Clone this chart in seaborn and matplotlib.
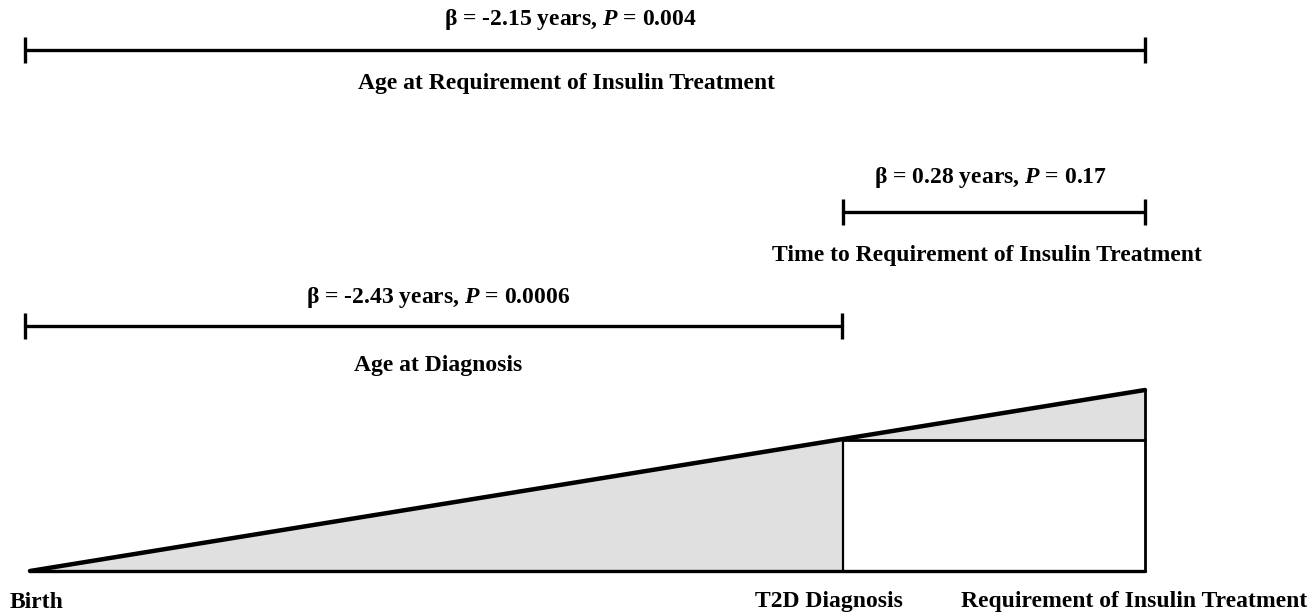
import numpy as np
import pandas as pd
import seaborn as sns
import matplotlib.pyplot as plt
from matplotlib.patches import Polygon

sns.set_theme(style="white")
plt.rcParams['font.family'] = ['Liberation Serif', 'DejaVu Serif']
plt.rcParams['mathtext.fontset'] = 'custom'
plt.rcParams['mathtext.rm'] = 'Liberation Serif'
plt.rcParams['mathtext.bf'] = 'Liberation Serif:bold'
plt.rcParams['mathtext.bfit'] = 'Liberation Serif:italic:bold'
plt.rcParams['text.color'] = 'black'

# timeline events (horizontal position along the diagram)
events = ['Birth', 'T2D Diagnosis', 'Requirement of Insulin Treatment']
event_x = [30, 843, 1145]

# outcome brackets
outcomes = ['Age at Requirement of Insulin Treatment',
            'Time to Requirement of Insulin Treatment',
            'Age at Diagnosis']
beta = ['-2.15', '0.28', '-2.43']
pvals = ['0.004', '0.17', '0.0006']
start_x = [25, 843, 25]
end_x = [1145, 1145, 842]
row_y = [50, 212, 326]

# triangle heights (pixels above the base)
base_y = 571
height_diag = 131
height_insulin = 181

# text placement per row
stat_dx = [-15, -3, 5]
stat_y = [20, 178, 297]
label_dx = [-19, -7, 5]
label_y = [83, 255, 365]

fig = plt.figure(figsize=(13.09, 6.13), dpi=100)
ax = fig.add_axes([0, 0, 1, 1])
ax.set_xlim(0, 1309)
ax.set_ylim(613, 0)
ax.axis('off')

fs = 17
for i, (name, b, p, x0, x1, y) in enumerate(zip(outcomes, beta, pvals, start_x, end_x, row_y)):
    seg = pd.DataFrame({'x': [x0, x1], 'y': [y, y]})
    sns.lineplot(data=seg, x='x', y='y', color='black', lw=2.4, ax=ax, legend=False)
    for xx in (x0, x1):
        ax.plot([xx, xx], [y - 13, y + 13], color='black', lw=2.4, solid_capstyle='butt')
    cx = (x0 + x1) / 2
    ax.text(cx + stat_dx[i], stat_y[i], 'β = ' + b + ' years, ' + r'$\mathbfit{P}$' + ' = ' + p,
            ha='center', va='center', fontsize=fs, fontweight='bold', color='black')
    ax.text(cx + label_dx[i], label_y[i], name, ha='center', va='center',
            fontsize=fs, fontweight='bold', color='black')

xb, xd, xi = event_x
yd = base_y - height_diag
yi = base_y - height_insulin

ax.add_patch(Polygon([[xb, base_y], [xd, base_y], [xd, yd]], closed=True,
                     facecolor='#e0e0e0', edgecolor='none'))
ax.add_patch(Polygon([[xd, yd], [xi, yi], [xi, yd]], closed=True,
                     facecolor='#e0e0e0', edgecolor='none'))

tri = pd.DataFrame({'x': [xb, xi], 'y': [base_y, yi]})
sns.lineplot(data=tri, x='x', y='y', color='black', lw=3.2, ax=ax, legend=False)
ax.plot([xb, xi], [base_y, base_y], color='black', lw=2.4)
ax.plot([xd, xd], [base_y, yd], color='black', lw=1.6)
ax.plot([xi, xi], [base_y, yi], color='black', lw=2)
ax.plot([xd, xi], [yd, yd], color='black', lw=2)

ax.text(10, 602, events[0], ha='left', va='center', fontsize=fs, fontweight='bold', color='black')
ax.text(829, 602, events[1], ha='center', va='center', fontsize=fs, fontweight='bold', color='black')
ax.text(1307, 602, events[2], ha='right', va='center', fontsize=fs, fontweight='bold', color='black')

fig.savefig('out.png', dpi=100)
